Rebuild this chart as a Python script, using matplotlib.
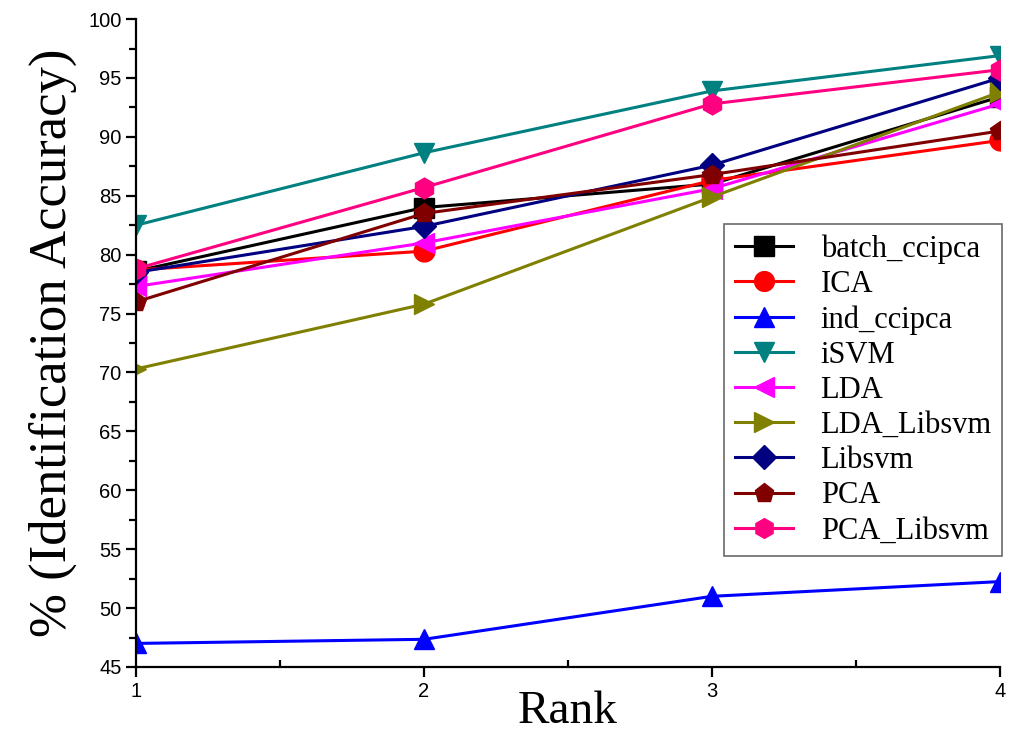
import numpy as np
from matplotlib import pyplot as plt
from matplotlib.ticker import MultipleLocator

rank = [1, 2, 3, 4]

batch_ccipca = [78.6, 84.0, 86.0, 93.4]
ica = [78.7, 80.3, 86.3, 89.7]
ind_ccipca = [47.0, 47.35, 51.0, 52.25]
isvm = [82.5, 88.65, 93.9, 96.9]
lda = [77.3, 81.0, 85.6, 92.8]
lda_libsvm = [70.3, 75.8, 84.9, 93.8]
libsvm = [78.5, 82.4, 87.6, 95.0]
pca = [76.0, 83.5, 86.8, 90.5]
pca_libsvm = [78.8, 85.7, 92.8, 95.7]

names = ['batch_ccipca', 'ICA', 'ind_ccipca', 'iSVM', 'LDA',
         'LDA_Libsvm', 'Libsvm', 'PCA', 'PCA_Libsvm']
series = [batch_ccipca, ica, ind_ccipca, isvm, lda,
          lda_libsvm, libsvm, pca, pca_libsvm]
colors = ['#000000', '#ff0000', '#0000ff', '#008080', '#ff00ff',
          '#808000', '#000080', '#800000', '#ff0080']
markers = ['s', 'o', '^', 'v', '<', '>', 'D', 'p', 'h']

fig = plt.figure(figsize=(10.1, 7.34), dpi=100)
ax = fig.add_axes([0.1347, 0.0913, 0.8553, 0.8827])

for name, y, c, m in zip(names, series, colors, markers):
    ms = 12.5 if m == 'D' else 15
    ax.plot(rank, y, color=c, marker=m, markersize=ms, linewidth=2.2,
            label=name)

ax.set_xlim(1, 4)
ax.set_ylim(45, 100)
ax.set_xticks(rank)
ax.xaxis.set_minor_locator(MultipleLocator(0.5))
ax.yaxis.set_major_locator(MultipleLocator(5))
ax.yaxis.set_minor_locator(MultipleLocator(2.5))

ax.spines['top'].set_visible(False)
ax.spines['right'].set_visible(False)
ax.spines['left'].set_linewidth(1.6)
ax.spines['bottom'].set_linewidth(1.6)
ax.tick_params(axis='both', which='major', direction='out', length=7,
               width=1.6, labelsize=14.5)
ax.tick_params(axis='y', which='minor', direction='out', length=5, width=1.6)
ax.tick_params(axis='x', which='minor', direction='in', length=5, width=1.6)
for lab in ax.get_xticklabels() + ax.get_yticklabels():
    lab.set_family('Liberation Sans')

ax.set_xlabel('Rank', family='Liberation Serif', fontsize=34, labelpad=-7)
ax.set_ylabel('% (Identification Accuracy)', family='Liberation Serif',
              fontsize=38, labelpad=8)

leg = ax.legend(loc='upper left', bbox_to_anchor=(0.681, 0.684),
                prop={'family': 'Liberation Serif', 'size': 22},
                frameon=True, fancybox=False, edgecolor='#444444',
                borderpad=0.35, labelspacing=0.2, handlelength=1.9,
                handletextpad=0.9, borderaxespad=0, markerscale=0.95)
leg.get_frame().set_linewidth(1.2)

fig.savefig('out.png', dpi=100)
